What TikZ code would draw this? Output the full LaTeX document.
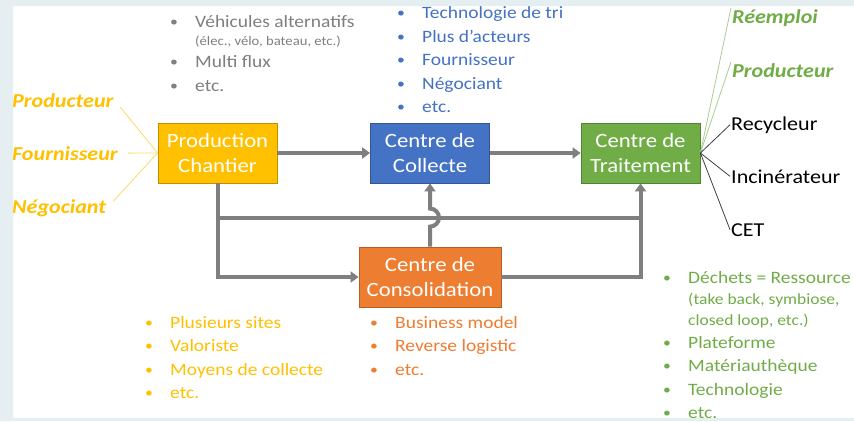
\documentclass[tikz,border=0pt]{standalone}
\usepackage{fontspec}
\setmainfont{Carlito}[FakeStretch=1.12]
\usepackage{tikz}
\usetikzlibrary{arrows.meta}

\definecolor{jaune}{HTML}{FFC000}
\definecolor{bleu}{HTML}{4472C4}
\definecolor{vert}{HTML}{70AD47}
\definecolor{orangec}{HTML}{ED7D31}
\definecolor{gris}{HTML}{7F7F7F}
\definecolor{fond}{HTML}{E5EFF2}

\newcommand{\puce}[1]{\makebox[24pt][l]{\hspace{-1pt}\raisebox{1pt}{\fontsize{14}{14}\selectfont\textbullet}}#1}

\tikzset{
 boite/.style={draw=#1!75!black, fill=#1, text=white, line width=0.8pt,
   minimum width=119pt, minimum height=60pt, align=center,
   font=\fontsize{20.3}{25}\selectfont},
 fleche/.style={draw=gris, line width=4pt, -{Triangle[length=8pt,width=11pt]}},
 trait/.style={draw=gris, line width=4pt},
 etiq/.style={anchor=base west, inner sep=1pt, font=\fontsize{19.7}{23}\selectfont},
 acteur/.style={etiq, font=\fontsize{19.7}{23}\selectfont\bfseries\itshape},
 liste/.style={anchor=base west, inner sep=0pt, font=\fontsize{17.4}{22}\selectfont},
 petit/.style={anchor=base west, inner sep=0pt, font=\fontsize{13.1}{15}\selectfont},
}

\begin{document}
\begin{tikzpicture}[x=1pt,y=-1pt]
 \useasboundingbox (0,0) rectangle (854,421);
 \fill[white] (0,0) rectangle (854,421);

 % les quatre centres
 \node[boite=jaune] (prod) at (217.5,153) {Production\\Chantier};
 \node[boite=bleu] (collecte) at (430,153) {Centre de\\Collecte};
 \node[boite=vert] (traitement) at (640.5,153) {Centre de\\Traitement};
 \node[boite=orangec, minimum width=142pt] (conso) at (430,277) {Centre de\\Consolidation};

 % flux
 \coordinate (ga) at (217.5,218);
 \coordinate (dr) at (640.5,218);
 \draw[fleche] (prod) -- (collecte);
 \draw[fleche] (collecte) -- (traitement);
 \draw[fleche] (prod.south) |- (conso.west);
 \draw[fleche] (ga) -| (traitement.south);
 \draw[trait] (conso.east) -| (dr);
 \draw[fleche] (conso.north) -- ++(0,-20) arc (90:-90:9) -- (collecte.south);

 % acteurs en amont
 \node[acteur, text=jaune] (aprod) at (11,107) {Producteur};
 \node[acteur, text=jaune] (afourn) at (11,160) {Fournisseur};
 \node[acteur, text=jaune] (anego) at (11,213) {Négociant};
 \draw[jaune!60, line width=0.8pt, shorten <=9pt] (aprod.east) -- (prod.west);
 \draw[jaune!60, line width=0.8pt, shorten <=9pt] (afourn.east) -- (prod.west);
 \draw[jaune!60, line width=0.8pt, shorten <=9pt] (anego.east) -- (prod.west);

 % exutoires
 \node[acteur, text=vert] (reemploi) at (731,23) {Réemploi};
 \node[acteur, text=vert] (vprod) at (731,77) {Producteur};
 \node[etiq] (recycl) at (730,130) {Recycleur};
 \node[etiq] (incin) at (730,183) {Incinérateur};
 \node[etiq] (cet) at (730,236) {CET};
 \draw[vert!60, line width=0.8pt] (traitement.east) -- (reemploi.north west);
 \draw[vert!60, line width=0.8pt] (traitement.east) -- (vprod.north west);
 \draw[black!75, line width=0.8pt] (traitement.east) -- (recycl.west);
 \draw[black!75, line width=0.8pt] (traitement.east) -- (incin.west);
 \draw[black!75, line width=0.8pt] (traitement.east) -- (cet.west);

 % listes
 \node[liste, text=gris] (g1) at (171,27) {\puce{Véhicules alternatifs}};
 \node[petit, text=gris] (g2) at (195,45) {(élec., vélo, bateau, etc.)};
 \node[liste, text=gris] (g3) at (171,67) {\puce{Multi flux}};
 \node[liste, text=gris] (g4) at (171,91) {\puce{etc.}};

 \foreach \t [count=\i] in {Technologie de tri, Plus d’acteurs, Fournisseur, Négociant, etc.}
  \node[liste, text=bleu] (b\i) at (398,{-5+23.5*\i}) {\puce{\t}};

 \foreach \t [count=\i] in {Plusieurs sites, Valoriste, Moyens de collecte, etc.}
  \node[liste, text=jaune] (j\i) at (146,{304.5+23.5*\i}) {\puce{\t}};

 \foreach \t [count=\i] in {Business model, Reverse logistic, etc.}
  \node[liste, text=orangec] (o\i) at (371,{304.5+23.5*\i}) {\puce{\t}};

 \node[liste, text=vert] (v1) at (664,283) {\puce{Déchets = Ressource}};
 \node[petit, text=vert, font=\fontsize{15.6}{18}\selectfont] (v2) at (688,304) {(take back, symbiose,};
 \node[petit, text=vert, font=\fontsize{15.6}{18}\selectfont] (v3) at (688,325) {closed loop, etc.)};
 \foreach \t [count=\i from 4] in {Plateforme, Matériauthèque, Technologie, etc.}
  \node[liste, text=vert] (v\i) at (664,{254+23.5*\i}) {\puce{\t}};

 % cadre
 \fill[fond, even odd rule] (0,0) rectangle (854,421) (13,6) rectangle (854,418);
\end{tikzpicture}
\end{document}
